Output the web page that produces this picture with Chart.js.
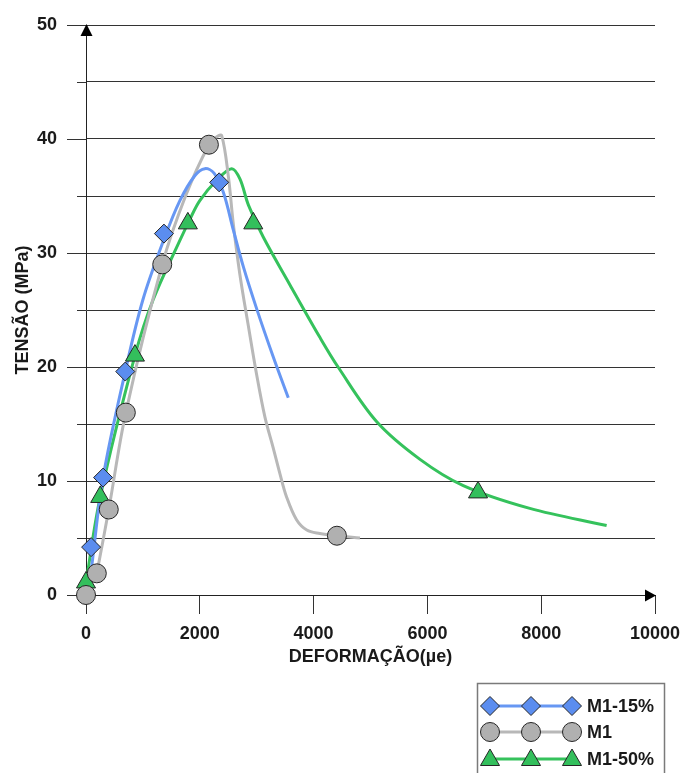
<!DOCTYPE html>
<html>
<head>
<meta charset="utf-8">
<script src="https://cdn.jsdelivr.net/npm/chart.js@4.4.1/dist/chart.umd.min.js"></script>
<style>
  html, body { margin: 0; padding: 0; background: #fff; }
  canvas { display: block; }
</style>
</head>
<body>
<canvas id="chart" width="681" height="773"></canvas>
<script>
// Axis ticks
const xTicks = [0, 2000, 4000, 6000, 8000, 10000];
const yMajor = [0, 10, 20, 30, 40, 50];
const yMinor = [5, 15, 25, 35, 45];

// Series names
const seriesNames = ['M1-15%', 'M1', 'M1-50%'];

// Measured points: strain (µε) and stress (MPa)
const m15Strain = [90, 300, 690, 1370, 2340];
const m15Stress = [4.2, 10.3, 19.6, 31.7, 36.2];
const m1Strain = [0, 190, 400, 700, 1340, 2160, 4410];
const m1Stress = [0, 1.9, 7.5, 16.0, 29.0, 39.5, 5.2];
const m50Strain = [0, 250, 860, 1790, 2940, 6890];
const m50Stress = [1.1, 8.6, 21.0, 32.6, 32.6, 9.0];

// Smoothed stress-strain curves
const m15CurveStrain = [100, 300, 690, 1000, 1370, 1650, 1915, 2090, 2250, 2415, 2590, 2765, 3000, 3290, 3555];
const m15CurveStress = [2.5, 10.3, 19.6, 25.9, 31.2, 34.6, 36.8, 37.4, 37.0, 35.3, 32.0, 28.8, 25.1, 20.9, 17.3];
const m1CurveStrain = [190, 400, 700, 1340, 1750, 2160, 2300, 2385, 2500, 2590, 2705, 2850, 3000, 3145, 3290, 3410, 3525, 3700, 3880, 4110, 4400, 4815];
const m1CurveStress = [1.9, 7.5, 16.0, 29.0, 35.0, 39.5, 40.2, 40.3, 36.8, 32.5, 28.1, 23.7, 19.3, 15.6, 12.9, 10.6, 8.6, 6.6, 5.7, 5.4, 5.2, 5.0];
const m50CurveStrain = [0, 250, 860, 1180, 1650, 1830, 2000, 2300, 2560, 2705, 2855, 3115, 3585, 4110, 4430, 5110, 5870, 6630, 7800, 9150];
const m50CurveStress = [1.1, 8.6, 21.0, 25.9, 31.1, 33.0, 34.6, 36.4, 37.4, 36.5, 34.2, 31.4, 27.2, 22.6, 20.0, 15.2, 11.9, 9.6, 7.6, 6.1];

const FONT = "'Liberation Sans', Arial, sans-serif";
const styles = [
  { line: '#6797f3', fill: '#5b8def', shape: 'rectRot', r: 9.5 },
  { line: '#b8b8b8', fill: '#b0b0b0', shape: 'circle', r: 9.5 },
  { line: '#35c25c', fill: '#33bf5c', shape: 'triangle', r: 11 }
];

const pts = (xs, ys) => xs.map((v, i) => ({ x: v, y: ys[i] }));

const curveSet = (xs, ys, s) => ({
  type: 'line',
  data: pts(xs, ys),
  borderColor: s.line,
  borderWidth: 3,
  pointRadius: 0,
  fill: false,
  showLine: true,
  tension: 0.35,
  order: 2,
  clip: false
});
const markerSet = (xs, ys, s) => ({
  type: 'scatter',
  data: pts(xs, ys),
  showLine: false,
  pointStyle: s.shape,
  pointRadius: s.r,
  pointBackgroundColor: s.fill,
  pointBorderColor: '#262626',
  pointBorderWidth: 1,
  order: 1,
  clip: false
});

// Draws one legend marker with its series colours
function legendMarker(ctx, s, x, y) {
  ctx.save();
  ctx.fillStyle = s.fill;
  ctx.strokeStyle = '#262626';
  ctx.lineWidth = 1;
  Chart.helpers.drawPoint(ctx, { pointStyle: s.shape, radius: s.r, borderWidth: 1, rotation: 0 }, x, y);
  ctx.restore();
}

// Arrowheads, short y ticks and the boxed legend
const decor = {
  id: 'decor',
  beforeDatasetsDraw(chart) {
    const { ctx, scales: { y }, chartArea: a } = chart;
    ctx.save();
    ctx.strokeStyle = '#333';
    ctx.lineWidth = 1;
    y.ticks.forEach(t => {
      const py = Math.round(y.getPixelForValue(t.value)) + 0.5;
      const len = yMajor.includes(t.value) ? 19 : 9;
      ctx.beginPath();
      ctx.moveTo(a.left - len, py);
      ctx.lineTo(a.left, py);
      ctx.stroke();
    });
    ctx.restore();
  },
  afterDraw(chart) {
    const { ctx, chartArea: a } = chart;
    ctx.save();
    ctx.fillStyle = '#000';
    // y arrow
    ctx.beginPath();
    ctx.moveTo(a.left + 0.5, a.top - 1);
    ctx.lineTo(a.left - 5.5, a.top + 11);
    ctx.lineTo(a.left + 6.5, a.top + 11);
    ctx.closePath();
    ctx.fill();
    // x arrow
    ctx.beginPath();
    ctx.moveTo(a.right + 1, a.bottom + 0.5);
    ctx.lineTo(a.right - 10, a.bottom - 5.5);
    ctx.lineTo(a.right - 10, a.bottom + 6.5);
    ctx.closePath();
    ctx.fill();

    // legend
    const bx = 477.5, by = 683.5;
    ctx.strokeStyle = '#7a7a7a';
    ctx.lineWidth = 1.5;
    ctx.strokeRect(bx, by, 187, 110);
    const rows = [706, 732, 759];
    ctx.font = 'bold 18px ' + FONT;
    ctx.textBaseline = 'middle';
    ctx.textAlign = 'left';
    styles.forEach((s, i) => {
      const yy = rows[i];
      ctx.strokeStyle = s.line;
      ctx.lineWidth = 3;
      ctx.beginPath();
      ctx.moveTo(490, yy);
      ctx.lineTo(572, yy);
      ctx.stroke();
      [490, 531, 572].forEach(mx => legendMarker(ctx, s, mx, yy + (s.shape === 'triangle' ? 1 : 0)));
      ctx.fillStyle = '#1a1a1a';
      ctx.fillText(seriesNames[i], 587, yy + 1);
    });
    ctx.restore();
  }
};

new Chart(document.getElementById('chart'), {
  type: 'scatter',
  data: {
    datasets: [
      markerSet(m15Strain, m15Stress, styles[0]),
      markerSet(m1Strain, m1Stress, styles[1]),
      markerSet(m50Strain, m50Stress, styles[2]),
      curveSet(m15CurveStrain, m15CurveStress, styles[0]),
      curveSet(m1CurveStrain, m1CurveStress, styles[1]),
      curveSet(m50CurveStrain, m50CurveStress, styles[2])
    ]
  },
  options: {
    responsive: false,
    animation: false,
    devicePixelRatio: 1,
    layout: { padding: { left: 0, top: 25, right: 26, bottom: 0 } },
    plugins: { legend: { display: false }, tooltip: { enabled: false } },
    scales: {
      x: {
        type: 'linear',
        min: 0, max: 10000,
        afterBuildTicks(s) { s.ticks = xTicks.map(v => ({ value: v })); },
        afterFit(s) { s.height = 178; s.paddingLeft = 0; s.paddingRight = 0; },
        grid: { drawOnChartArea: false, drawTicks: true, tickLength: 19, color: '#333', lineWidth: 1 },
        border: { display: true, color: '#222', width: 1 },
        ticks: {
          autoSkip: false, maxRotation: 0, padding: 9, color: '#1a1a1a',
          font: { family: FONT, size: 18, weight: 'bold' },
          callback: v => String(v)
        },
        title: {
          display: true, text: 'DEFORMAÇÃO(µe)', color: '#1a1a1a',
          font: { family: FONT, size: 18, weight: 'bold' },
          padding: { top: 0, bottom: 105 }
        }
      },
      y: {
        type: 'linear',
        min: 0, max: 50,
        afterBuildTicks(s) {
          s.ticks = yMajor.concat(yMinor).sort((p, q) => p - q).map(v => ({ value: v }));
        },
        afterFit(s) { s.width = 86; s.paddingTop = 0; s.paddingBottom = 0; },
        grid: { drawOnChartArea: true, drawTicks: false, color: '#333', lineWidth: 1 },
        border: { display: true, color: '#222', width: 1 },
        ticks: {
          autoSkip: false, padding: 29, color: '#1a1a1a',
          font: { family: FONT, size: 18, weight: 'bold' },
          callback: v => (yMajor.includes(v) ? String(v) : '')
        },
        title: {
          display: true, text: 'TENSÃO (MPa)', color: '#1a1a1a',
          font: { family: FONT, size: 18, weight: 'bold' },
          padding: { top: 12, bottom: 0 }
        }
      }
    }
  },
  plugins: [decor]
});
</script>
</body>
</html>
